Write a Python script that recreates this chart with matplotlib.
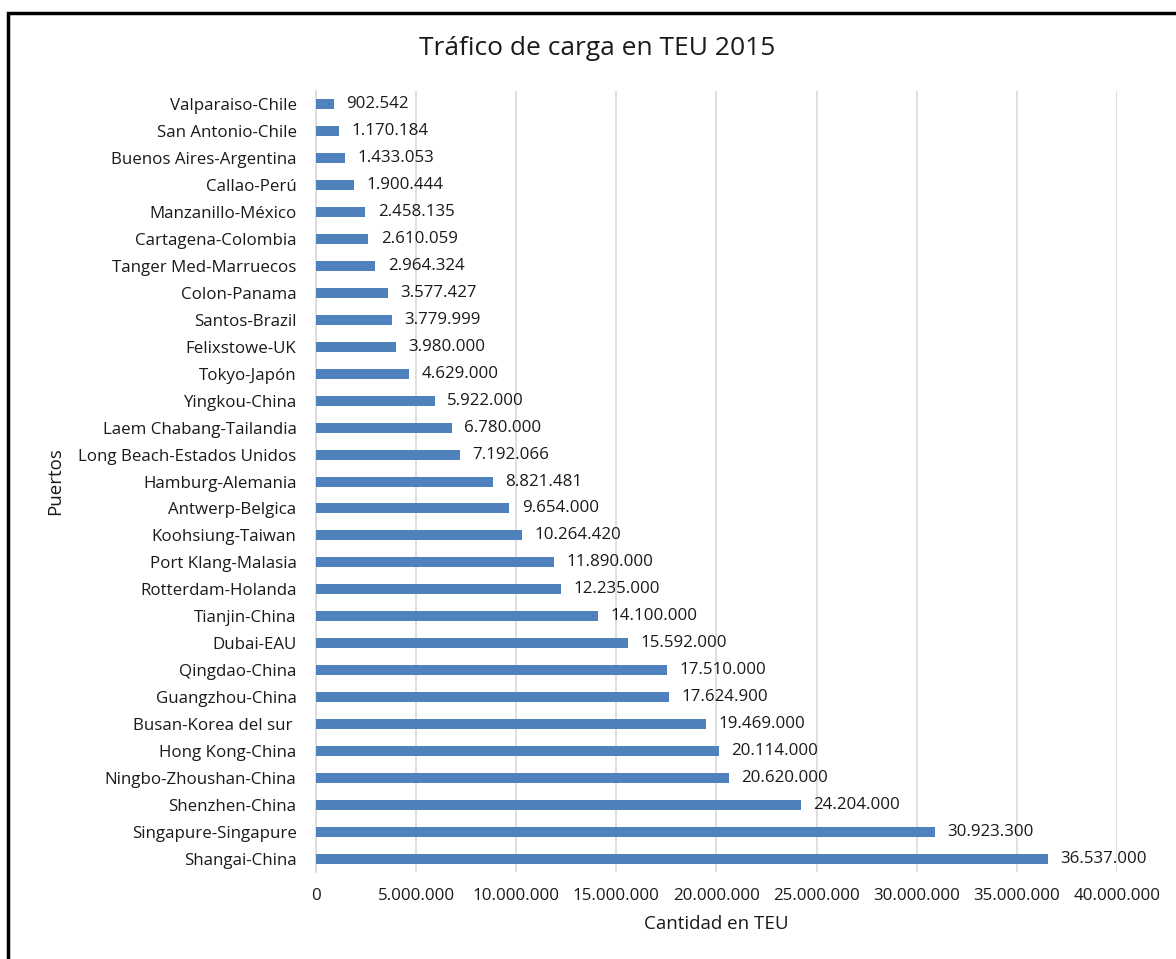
import matplotlib.pyplot as plt
from matplotlib.patches import Rectangle

plt.rcParams['font.family'] = ['Open Sans', 'DejaVu Sans']

puertos = [
    "Valparaiso-Chile", "San Antonio-Chile", "Buenos Aires-Argentina", "Callao-Perú",
    "Manzanillo-México", "Cartagena-Colombia", "Tanger Med-Marruecos", "Colon-Panama",
    "Santos-Brazil", "Felixstowe-UK", "Tokyo-Japón", "Yingkou-China",
    "Laem Chabang-Tailandia", "Long Beach-Estados Unidos", "Hamburg-Alemania",
    "Antwerp-Belgica", "Koohsiung-Taiwan", "Port Klang-Malasia", "Rotterdam-Holanda",
    "Tianjin-China", "Dubai-EAU", "Qingdao-China", "Guangzhou-China",
    "Busan-Korea del sur ", "Hong Kong-China", "Ningbo-Zhoushan-China",
    "Shenzhen-China", "Singapure-Singapure", "Shangai-China",
]
teu = [
    902542, 1170184, 1433053, 1900444, 2458135, 2610059, 2964324, 3577427,
    3779999, 3980000, 4629000, 5922000, 6780000, 7192066, 8821481, 9654000,
    10264420, 11890000, 12235000, 14100000, 15592000, 17510000, 17624900,
    19469000, 20114000, 20620000, 24204000, 30923300, 36537000,
]


def miles(v):
    return f"{v:,.0f}".replace(",", ".")


fig = plt.figure(figsize=(11.76, 9.59), dpi=100)
ax = fig.add_axes([0.2687, 0.0902, 0.6811, 0.8154])

pos = list(range(len(puertos)))
ax.barh(pos, teu, height=0.37, color='#4F81BD', zorder=3)
ax.set_ylim(len(puertos) - 0.5, -0.5)
ax.set_yticks(pos)
ax.set_yticklabels(puertos, fontsize=12.2, color='#1a1a1a')

ax.set_xlim(0, 40000000)
ticks = list(range(0, 40000001, 5000000))
ax.set_xticks(ticks)
ax.set_xticklabels([miles(t) for t in ticks], fontsize=12.2, color='#1a1a1a')
ax.tick_params(length=0)
ax.tick_params(axis='x', pad=11)
ax.tick_params(axis='y', pad=14)
ax.grid(axis='x', color='#D9D9D9', linewidth=1.2, zorder=0)

for s in ['top', 'right', 'bottom']:
    ax.spines[s].set_visible(False)
ax.spines['left'].set_color('#D9D9D9')
ax.spines['left'].set_linewidth(1.2)

for p, v in zip(pos, teu):
    ax.annotate(miles(v), (v, p), xytext=(9, 0), textcoords='offset points',
                va='center', ha='left', fontsize=12.2, color='#1a1a1a')

ax.set_xlabel("Cantidad en TEU", fontsize=13.5, color='#1a1a1a', labelpad=8)
ax.set_ylabel("Puertos", fontsize=13.5, color='#1a1a1a', va='center')
ax.yaxis.set_label_coords(-0.326, 0.5)
fig.text(0.508, 0.949, "Tráfico de carga en TEU 2015", ha='center', va='center',
         fontsize=19, color='#1a1a1a')

fig.patches.append(Rectangle((8 / 1176, -0.05), 1.2, 1.05 - 13 / 959,
                             transform=fig.transFigure, fill=False,
                             edgecolor='black', linewidth=2.5))

fig.savefig("out.png", dpi=100)
